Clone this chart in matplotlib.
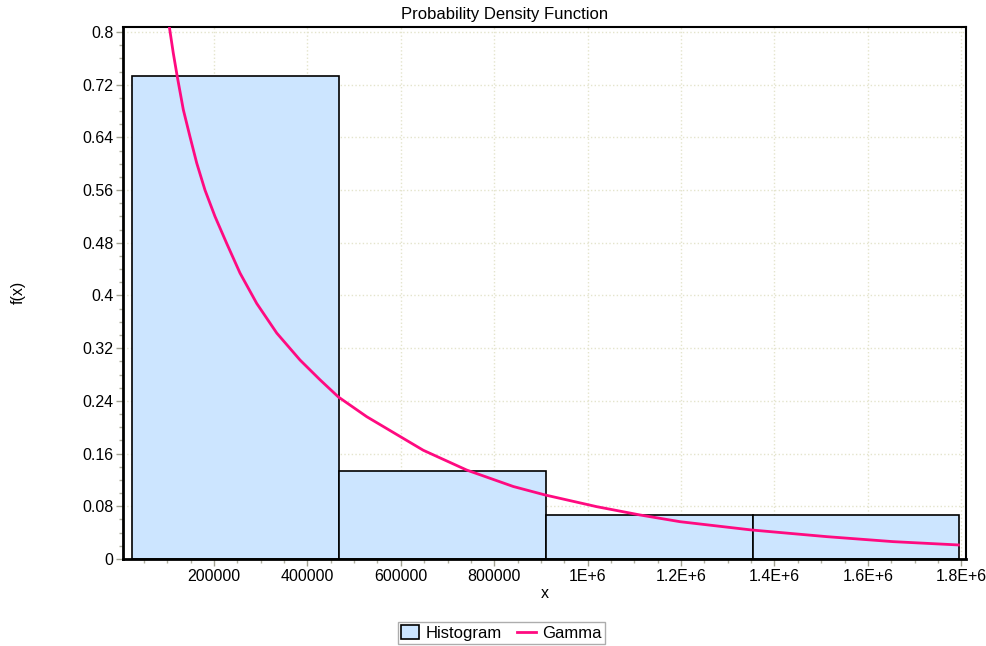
import numpy as np
import matplotlib
matplotlib.use("Agg")
import matplotlib.pyplot as plt
from matplotlib.ticker import MultipleLocator

plt.rcParams['font.family'] = ['Liberation Sans', 'DejaVu Sans']

# histogram bins (edges) and relative frequencies
bin_edges = [24000, 467000, 910000, 1353000, 1796000]
bin_heights = [0.7333, 0.1333, 0.0667, 0.0667]

# gamma fit curve
gamma_x = [104300, 112800, 121400, 134300, 148600, 163000, 180700, 202100,
           227200, 255700, 291400, 334300, 384200, 427000, 466200, 527000,
           598300, 648200, 741100, 840900, 908800, 1019500, 1112200, 1197900,
           1351400, 1512000, 1654600, 1793800]
gamma_y = [0.808, 0.768, 0.732, 0.682, 0.641, 0.601, 0.560, 0.520,
           0.479, 0.434, 0.388, 0.343, 0.302, 0.272, 0.246, 0.216,
           0.186, 0.165, 0.135, 0.110, 0.0972, 0.0794, 0.0668, 0.0566,
           0.0440, 0.0339, 0.0263, 0.0213]

x_ticks = [200000, 400000, 600000, 800000, 1000000, 1200000, 1400000, 1600000, 1800000]
x_labels = ["200000", "400000", "600000", "800000", "1E+6", "1.2E+6", "1.4E+6", "1.6E+6", "1.8E+6"]
y_ticks = [0, 0.08, 0.16, 0.24, 0.32, 0.4, 0.48, 0.56, 0.64, 0.72, 0.8]
y_labels = ["0", "0.08", "0.16", "0.24", "0.32", "0.4", "0.48", "0.56", "0.64", "0.72", "0.8"]

fig = plt.figure(figsize=(9.87, 6.46), dpi=100)
ax = fig.add_axes([0.1246, 0.1347, 0.8541, 0.8235])

lefts = bin_edges[:-1]
widths = np.diff(bin_edges)
bars = ax.bar(lefts, bin_heights, width=widths, align="edge", color="#cce5ff",
              edgecolor="black", linewidth=1.2, label="Histogram", zorder=2)
line, = ax.plot(gamma_x, gamma_y, color="#ff0a80", linewidth=2, label="Gamma", zorder=3)

ax.set_xlim(5100, 1810000)
ax.set_ylim(0, 0.8076)

ax.set_xticks(x_ticks)
ax.set_xticklabels(x_labels)
ax.set_yticks(y_ticks)
ax.set_yticklabels(y_labels)
ax.xaxis.set_minor_locator(MultipleLocator(50000))
ax.yaxis.set_minor_locator(MultipleLocator(0.02))
ax.tick_params(which="major", length=5, width=1, color="#a0a090", labelsize=11.5, pad=2)
ax.tick_params(which="minor", length=3, width=1, color="#b0b0a0")

ax.grid(True, which="major", linestyle=":", color="#e4e4cc", linewidth=1, zorder=0)
ax.set_axisbelow(True)

for side in ["left", "bottom"]:
    ax.spines[side].set_linewidth(2)
for side in ["top", "right"]:
    ax.spines[side].set_linewidth(1.5)

# title is centred on the whole figure, not on the axes
fig.text(0.5115, 0.977, "Probability Density Function", ha="center", va="center", fontsize=12)
ax.set_xlabel("x", fontsize=11.5, labelpad=2)
fig.text(0.018, 0.547, "f(x)", rotation=90, ha="center", va="center", fontsize=11.5)

leg = fig.legend([bars, line], ["Histogram", "Gamma"], loc="center",
                 bbox_to_anchor=(0.508, 0.0201), ncol=2, frameon=True,
                 fancybox=False, edgecolor="#999999", fontsize=12,
                 handlelength=1.1, handleheight=0.9, handletextpad=0.4,
                 columnspacing=0.9, borderpad=0.2, borderaxespad=0)
leg.get_frame().set_linewidth(1)

fig.savefig("out.png", dpi=100)
